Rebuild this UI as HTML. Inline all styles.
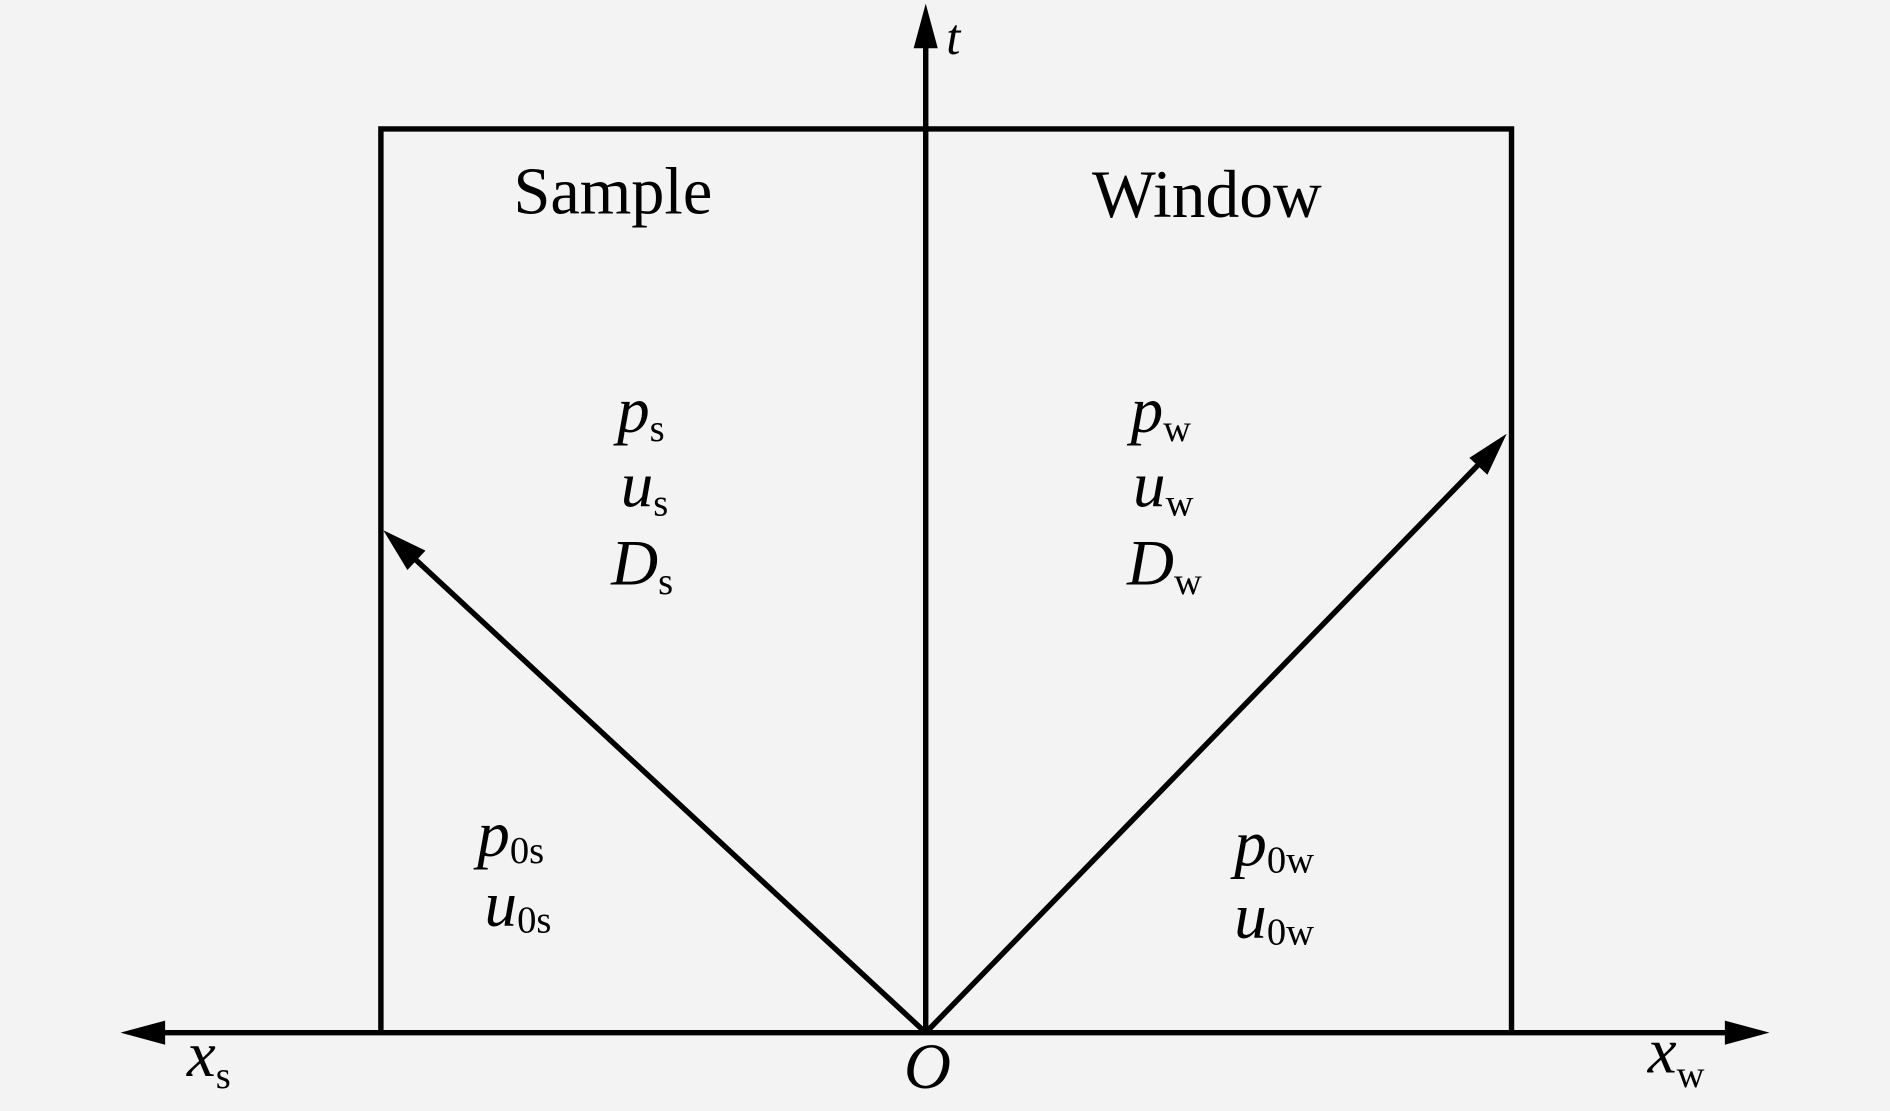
<!DOCTYPE html>
<html><head><meta charset="utf-8"><style>
html,body{margin:0;padding:0;background:#f3f3f3;}
svg{display:block}
text{font-family:"Liberation Serif",serif;fill:#000}
</style></head><body>
<svg width="1890" height="1111" viewBox="0 0 1568 922" preserveAspectRatio="none" xmlns="http://www.w3.org/2000/svg">
<rect width="1568" height="922" fill="#f3f3f3"/>
<g stroke="#000" stroke-width="4.5" fill="none">
<polyline points="316,857 316,107 1254,107 1254,857"/>
<line x1="768" y1="857" x2="768" y2="35"/>
<line x1="130" y1="857" x2="1440" y2="857"/>
<line x1="768" y1="857" x2="340" y2="460"/>
<line x1="768" y1="857" x2="1230" y2="382"/>
</g>
<g fill="#000">
<polygon points="768,3 758,40 778,40"/>
<polygon points="100,857 137,847 137,867"/>
<polygon points="1468,857 1431,847 1431,867"/>
<polygon points="318,440 353,457 338,473"/>
<polygon points="1250,360 1234,394 1219,380"/>
</g>
<text x="785" y="45" font-size="42" font-style="italic">t</text>
<text x="426" y="177" font-size="55">Sample</text>
<text x="906" y="180" font-size="56">Window</text>
<g font-size="54" font-style="italic">
<text x="512" y="358">p<tspan font-size="32" font-style="normal" dy="8">s</tspan></text>
<text x="515" y="420">u<tspan font-size="32" font-style="normal" dy="8">s</tspan></text>
<text x="507" y="485">D<tspan font-size="32" font-style="normal" dy="8">s</tspan></text>
<text x="938" y="358">p<tspan font-size="32" font-style="normal" dy="8">w</tspan></text>
<text x="940" y="420">u<tspan font-size="32" font-style="normal" dy="8">w</tspan></text>
<text x="935" y="485">D<tspan font-size="32" font-style="normal" dy="8">w</tspan></text>
<text x="396" y="710">p<tspan font-size="32" font-style="normal" dy="6">0s</tspan></text>
<text x="402" y="768">u<tspan font-size="32" font-style="normal" dy="6">0s</tspan></text>
<text x="1024" y="718">p<tspan font-size="32" font-style="normal" dy="6">0w</tspan></text>
<text x="1024" y="778">u<tspan font-size="32" font-style="normal" dy="6">0w</tspan></text>
<text x="155" y="893">x<tspan font-size="32" font-style="normal" dy="10">s</tspan></text>
<text x="750" y="903">O</text>
<text x="1367" y="890">x<tspan font-size="32" font-style="normal" dy="12">w</tspan></text>
</g>
</svg>
</body></html>
